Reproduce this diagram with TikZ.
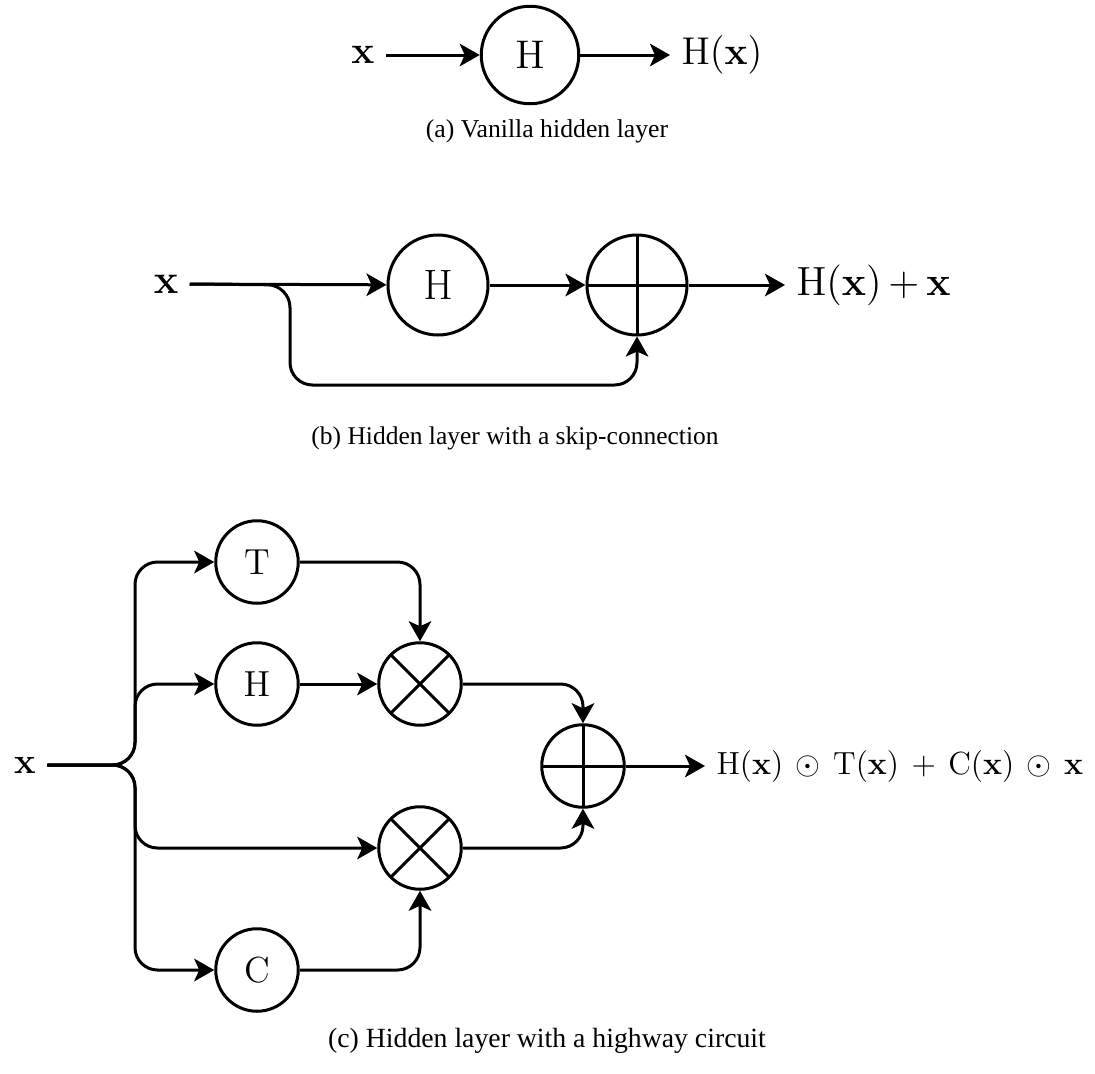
\documentclass[tikz,border=0pt]{standalone}
\usepackage{fix-cm}
\usepackage{amsmath,amssymb}
\usepackage[no-math]{fontspec}
\setmainfont{Liberation Serif}
\usepackage{tikz}
\usetikzlibrary{arrows.meta,positioning,calc}

\begin{document}
\begin{tikzpicture}[
 x=0.4pt,y=-0.4pt,line width=1.2pt,
 mth/.style={font=\fontsize{#1}{20}\selectfont,inner sep=4pt},
 mth/.default=15.5,
 capt/.style={font=\fontsize{#1}{12}\selectfont},
 capt/.default=10.3,
 unit/.style={circle,draw,line width=1.2pt,minimum size=39pt,inner sep=0pt,font=\fontsize{#1}{20}\selectfont},
 unit/.default=16,
 sunit/.style={unit=14.5,minimum size=33pt},
 plus/.style={path picture={\draw[line width=1.2pt] (path picture bounding box.north)--(path picture bounding box.south) (path picture bounding box.west)--(path picture bounding box.east);}},
 times/.style={path picture={\draw[line width=1.2pt] (path picture bounding box.north west)--(path picture bounding box.south east) (path picture bounding box.south west)--(path picture bounding box.north east);}},
 arr/.style={-{Stealth[length=8pt,width=9pt,inset=2pt]}},
 rc/.style={rounded corners=9pt}
]
\useasboundingbox (0,0) rectangle (1095,1074);
% (a)
\node[mth] (xa) at (363,55) {$\mathbf{x}$};
\node[unit] (ha) at (530,55) {$\mathrm{H}$};
\node[mth,anchor=west] (oa) at (670,55) {$\mathrm{H}(\mathbf{x})$};
\draw[arr] (xa)--(ha); \draw[arr] (ha)--(oa);
\node[capt] (ca) at (547,131) {(a) Vanilla hidden layer};
% (b)
\node[mth=16.5] (xb) at (166,284) {$\mathbf{x}$};
\node[unit=17,minimum size=40pt] (hb) at (438,285) {$\mathrm{H}$};
\node[unit,plus,minimum size=40pt] (pb) at (637,285) {};
\node[mth=16.3,anchor=west] (ob) at (785,285) {$\mathrm{H}(\mathbf{x})\,{+}\,\mathbf{x}$};
\coordinate (skip) at (290,285);
\coordinate (low) at (290,385);
\draw[arr] (xb)--(hb); \draw[arr] (hb)--(pb); \draw[arr] (pb)--(ob);
\draw[arr,rc] (xb.east)--(skip)--(low)-|(pb.south);
\node[capt=10.2] (cb) at (515,438) {(b) Hidden layer with a skip-connection};
% (c)
\node[mth=14.5] (xc) at (25,765) {$\mathbf{x}$};
\coordinate (split) at (135,765);
\node[sunit] (tc) at (257,562) {$\mathrm{T}$};
\node[sunit] (hc) at (257,684) {$\mathrm{H}$};
\node[sunit] (cc) at (257,970) {$\mathrm{C}$};
\node[sunit,times] (m1) at (420,684) {};
\node[sunit,times] (m2) at (420,848) {};
\node[sunit,plus] (pc) at (583,766) {};
\node[mth=12.8,anchor=west] (oc) at (705,766) {$\mathrm{H}(\mathbf{x})\,\odot\,\mathrm{T}(\mathbf{x})\,+\,\mathrm{C}(\mathbf{x})\,\odot\,\mathbf{x}$};
\draw[arr,rc] (xc.east)--(split)|-(tc.west);
\draw[arr,rc] (xc.east)--(split)|-(hc.west);
\draw[arr,rc] (xc.east)--(split)|-(m2.west);
\draw[arr,rc] (xc.east)--(split)|-(cc.west);
\draw[arr,rc] (tc.east)-|(m1.north);
\draw[arr] (hc)--(m1);
\draw[arr,rc] (cc.east)-|(m2.south);
\draw[arr,rc] (m1.east)-|(pc.north);
\draw[arr,rc] (m2.east)-|(pc.south);
\draw[arr] (pc)--(oc);
\node[capt=11.1] (cc2) at (547,1041) {(c) Hidden layer with a highway circuit};
\end{tikzpicture}
\end{document}
